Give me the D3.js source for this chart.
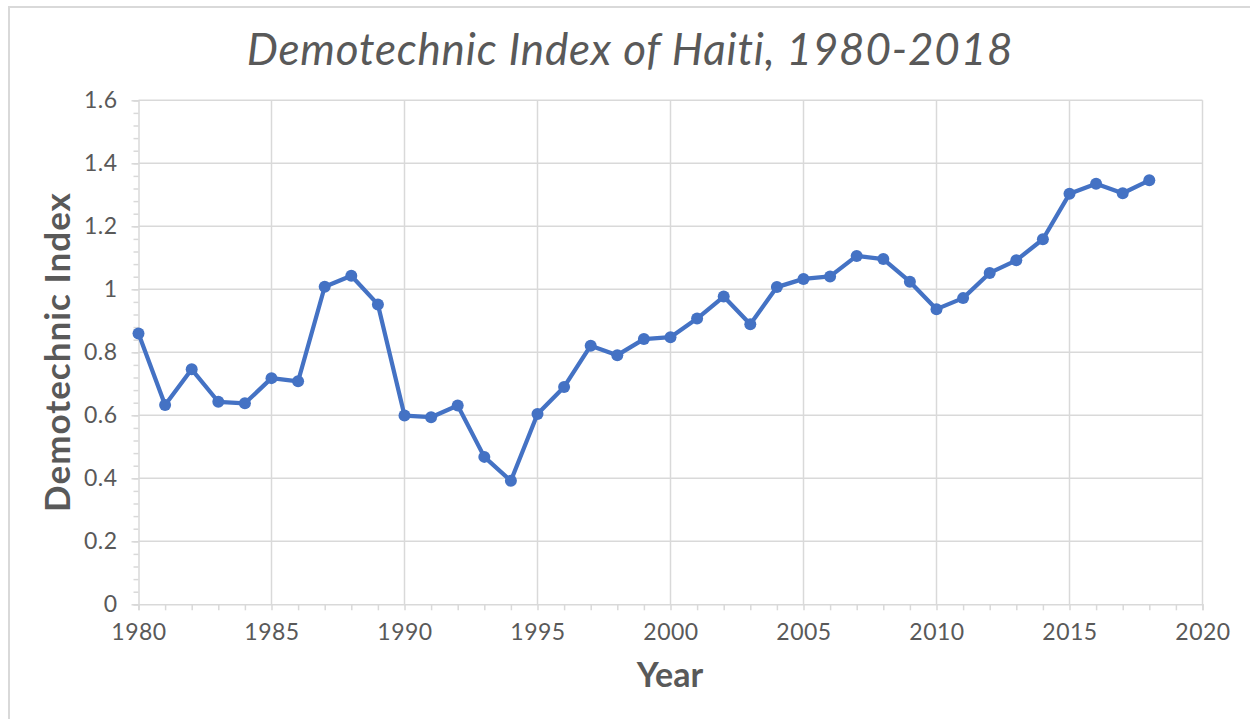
<!DOCTYPE html>
<html>
<head>
<meta charset="utf-8">
<script src="https://cdn.jsdelivr.net/npm/d3@7"></script>
<style>
  body { margin: 0; background: #fff; }
  text { font-family: Lato, "Open Sans", sans-serif; fill: #595959; }
</style>
</head>
<body>
<div id="chart-area"></div>
<script>
// datos
const years = [1980, 1981, 1982, 1983, 1984, 1985, 1986, 1987, 1988, 1989,
  1990, 1991, 1992, 1993, 1994, 1995, 1996, 1997, 1998, 1999,
  2000, 2001, 2002, 2003, 2004, 2005, 2006, 2007, 2008, 2009,
  2010, 2011, 2012, 2013, 2014, 2015, 2016, 2017, 2018];
const index = [0.860, 0.633, 0.746, 0.643, 0.638, 0.718, 0.708, 1.008, 1.043, 0.952,
  0.599, 0.594, 0.631, 0.468, 0.392, 0.604, 0.690, 0.821, 0.791, 0.842,
  0.848, 0.907, 0.977, 0.889, 1.007, 1.033, 1.041, 1.106, 1.096, 1.024,
  0.937, 0.972, 1.052, 1.092, 1.159, 1.303, 1.335, 1.305, 1.346];
const xTicks = [1980, 1985, 1990, 1995, 2000, 2005, 2010, 2015, 2020];
const yTicks = [0, 0.2, 0.4, 0.6, 0.8, 1, 1.2, 1.4, 1.6];

const data = years.map((y, i) => ({ year: y, value: index[i] }));

const width = 1250;
const height = 719;
const margin = { left: 138.5, right: 47.5, top: 100.3, bottom: 114.7 };

const svg = d3.select("#chart-area")
  .append("svg")
  .attr("width", width)
  .attr("height", height);

// marco
svg.append("rect")
  .attr("x", 9).attr("y", 7)
  .attr("width", width + 20).attr("height", height + 20)
  .attr("fill", "none")
  .attr("stroke", "#d9d9d9")
  .attr("stroke-width", 2);

const x = d3.scaleLinear().domain([1980, 2020]).range([margin.left, width - margin.right]);
const y = d3.scaleLinear().domain([0, 1.6]).range([height - margin.bottom, margin.top]);

const grid = "#d9d9d9";

// rejilla
svg.append("g").selectAll("line.h")
  .data(yTicks.slice(1))
  .enter().append("line")
  .attr("x1", x(1980)).attr("x2", x(2020))
  .attr("y1", d => y(d)).attr("y2", d => y(d))
  .attr("stroke", grid).attr("stroke-width", 1.5);

svg.append("g").selectAll("line.v")
  .data(xTicks.slice(1))
  .enter().append("line")
  .attr("x1", d => x(d)).attr("x2", d => x(d))
  .attr("y1", y(0)).attr("y2", y(1.6))
  .attr("stroke", grid).attr("stroke-width", 1.5);

// eje x
const xAxis = svg.append("g")
  .attr("transform", `translate(0,${y(0)})`)
  .call(d3.axisBottom(x).tickValues(d3.range(1980, 2021, 1)).tickSize(6).tickFormat(""));
xAxis.select(".domain").attr("stroke", grid).attr("stroke-width", 1.5);
xAxis.selectAll(".tick line").attr("stroke", grid).attr("stroke-width", 1.5);

svg.append("g")
  .attr("transform", `translate(0,${y(0)})`)
  .call(d3.axisBottom(x).tickValues(xTicks).tickSize(0).tickPadding(19).tickFormat(d3.format("d")))
  .call(g => g.select(".domain").remove())
  .selectAll("text")
  .attr("font-size", 23)
  .attr("font-family", "Lato, sans-serif")
  .attr("letter-spacing", 0.5)
  .style("fill", "#595959");

// eje y
const yAxis = svg.append("g")
  .attr("transform", `translate(${x(1980)},0)`)
  .call(d3.axisLeft(y).tickValues(d3.range(0, 1.6001, 0.04)).tickSize(5).tickFormat(""));
yAxis.select(".domain").attr("stroke", grid).attr("stroke-width", 1.5);
yAxis.selectAll(".tick line").attr("stroke", grid).attr("stroke-width", 1.5);

const yLab = svg.append("g")
  .attr("transform", `translate(${x(1980)},0)`)
  .call(d3.axisLeft(y).tickValues(yTicks).tickSize(7).tickPadding(14).tickFormat(d => d3.format("")(+d.toFixed(1))));
yLab.select(".domain").remove();
yLab.selectAll(".tick line").attr("stroke", grid).attr("stroke-width", 1.5);
yLab.selectAll("text")
  .attr("font-size", 23)
  .attr("font-family", "Lato, sans-serif")
  .attr("letter-spacing", 0.5)
  .style("fill", "#595959");

// linea
const line = d3.line().x(d => x(d.year)).y(d => y(d.value));
svg.append("path")
  .datum(data)
  .attr("d", line)
  .attr("fill", "none")
  .attr("stroke", "#4472c4")
  .attr("stroke-width", 4.25)
  .attr("stroke-linejoin", "round");

svg.append("g").selectAll("circle")
  .data(data)
  .enter().append("circle")
  .attr("cx", d => x(d.year))
  .attr("cy", d => y(d.value))
  .attr("r", 6)
  .attr("fill", "#4472c4");

// titulos
svg.append("text")
  .attr("x", 630).attr("y", 65)
  .attr("text-anchor", "middle")
  .attr("font-size", 44)
  .attr("font-style", "italic")
  .attr("letter-spacing", 0.8)
  .text("Demotechnic Index of Haiti, 1980-2018");

svg.append("text")
  .attr("x", 670).attr("y", 687)
  .attr("text-anchor", "middle")
  .attr("font-size", 34)
  .attr("font-weight", "bold")
  .text("Year");

svg.append("text")
  .attr("transform", "translate(70,352) rotate(-90)")
  .attr("text-anchor", "middle")
  .attr("font-size", 35)
  .attr("font-weight", "bold")
  .attr("letter-spacing", 1)
  .text("Demotechnic Index");
</script>
</body>
</html>
